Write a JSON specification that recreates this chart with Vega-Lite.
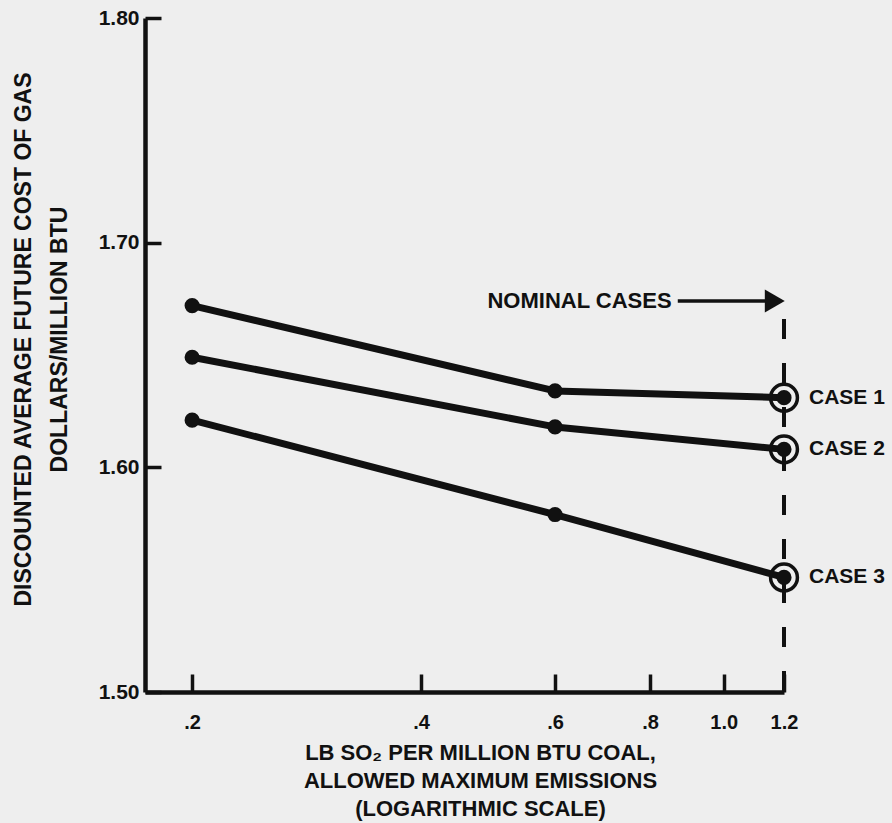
{
  "$schema": "https://vega.github.io/schema/vega-lite/v6.json",
  "width": 639,
  "height": 674,
  "autosize": {"type": "none"},
  "padding": {"left": 145, "top": 18, "right": 108, "bottom": 131},
  "background": "#eeeeee",
  "config": {
    "view": {"stroke": null},
    "font": "Liberation Sans, Arial, sans-serif"
  },
  "datasets": {
    "cases": [
      {"case": "CASE 1", "x": 0.2, "y": 1.672},
      {"case": "CASE 1", "x": 0.6, "y": 1.634},
      {"case": "CASE 1", "x": 1.2, "y": 1.631},
      {"case": "CASE 2", "x": 0.2, "y": 1.649},
      {"case": "CASE 2", "x": 0.6, "y": 1.618},
      {"case": "CASE 2", "x": 1.2, "y": 1.608},
      {"case": "CASE 3", "x": 0.2, "y": 1.621},
      {"case": "CASE 3", "x": 0.6, "y": 1.579},
      {"case": "CASE 3", "x": 1.2, "y": 1.551}
    ],
    "nominalLine": [{"x": 1.2, "y": 1.666, "y2": 1.5}],
    "arrow": [{"x": 0.87, "x2": 1.16, "y": 1.674}],
    "arrowHead": [{"x": 1.167, "y": 1.674}],
    "note": [{"x": 0.854, "y": 1.674, "label": "NOMINAL CASES"}]
  },
  "encoding": {
    "x": {
      "field": "x",
      "type": "quantitative",
      "scale": {"type": "log", "domain": [0.1734, 1.2], "nice": false, "zero": false},
      "axis": {
        "values": [0.2, 0.4, 0.6, 0.8, 1.0, 1.2],
        "labelExpr": "datum.value < 1 ? replace(format(datum.value, '.1f'), '0.', '.') : format(datum.value, '.1f')",
        "grid": false,
        "domainColor": "#111111",
        "domainWidth": 4.5,
        "tickColor": "#111111",
        "tickWidth": 3.5,
        "tickSize": -18,
        "labelPadding": 38,
        "labelFontSize": 20,
        "labelFontWeight": "bold",
        "labelColor": "#111111",
        "labelFlush": false,
        "labelOverlap": false,
        "title": ["LB SO₂ PER MILLION BTU COAL,", "ALLOWED MAXIMUM EMISSIONS", "(LOGARITHMIC SCALE)"],
        "titleFontSize": 22,
        "titleFontWeight": "bold",
        "titleColor": "#111111",
        "titleX": 335,
        "titleY": 50,
        "titleAlign": "center",
        "titleBaseline": "top",
        "titleLineHeight": 28
      }
    },
    "y": {
      "field": "y",
      "type": "quantitative",
      "scale": {"domain": [1.5, 1.8], "nice": false, "zero": false},
      "axis": {
        "values": [1.5, 1.6, 1.7, 1.8],
        "format": ".2f",
        "grid": false,
        "domainColor": "#111111",
        "domainWidth": 4.5,
        "tickColor": "#111111",
        "tickWidth": 3.5,
        "tickSize": -16,
        "labelPadding": 22,
        "labelFontSize": 21,
        "labelFontWeight": "bold",
        "labelColor": "#111111",
        "labelFlush": false,
        "labelOverlap": false,
        "title": ["DISCOUNTED AVERAGE FUTURE COST OF GAS", "DOLLARS/MILLION BTU"],
        "titleFontSize": 23,
        "titleFontWeight": "bold",
        "titleColor": "#111111",
        "titleX": -122,
        "titleY": 321,
        "titleAngle": -90,
        "titleAlign": "center",
        "titleBaseline": "middle",
        "titleLineHeight": 36
      }
    }
  },
  "layer": [
    {
      "data": {"name": "nominalLine"},
      "mark": {"type": "rule", "color": "#111111", "strokeWidth": 4, "strokeDash": [20, 24]},
      "encoding": {"y2": {"field": "y2"}}
    },
    {
      "data": {"name": "cases"},
      "mark": {"type": "line", "color": "#111111", "strokeWidth": 7, "strokeJoin": "round"},
      "encoding": {"detail": {"field": "case", "type": "nominal"}}
    },
    {
      "data": {"name": "cases"},
      "mark": {"type": "point", "shape": "circle", "filled": true, "color": "#111111", "size": 230, "opacity": 1}
    },
    {
      "data": {"name": "cases"},
      "transform": [{"filter": "datum.x == 1.2"}],
      "mark": {"type": "point", "shape": "circle", "filled": false, "color": "#111111", "size": 720, "strokeWidth": 3.5, "opacity": 1}
    },
    {
      "data": {"name": "cases"},
      "transform": [{"filter": "datum.x == 1.2"}],
      "mark": {"type": "text", "align": "left", "baseline": "middle", "dx": 25, "fontSize": 21, "fontWeight": "bold", "color": "#111111"},
      "encoding": {"text": {"field": "case"}}
    },
    {
      "data": {"name": "arrow"},
      "mark": {"type": "rule", "color": "#111111", "strokeWidth": 3.5},
      "encoding": {"x2": {"field": "x2"}}
    },
    {
      "data": {"name": "arrowHead"},
      "mark": {"type": "point", "shape": "triangle-right", "filled": true, "color": "#111111", "size": 530, "opacity": 1}
    },
    {
      "data": {"name": "note"},
      "mark": {"type": "text", "align": "right", "baseline": "middle", "fontSize": 22, "fontWeight": "bold", "color": "#111111"},
      "encoding": {"text": {"field": "label"}}
    }
  ]
}
